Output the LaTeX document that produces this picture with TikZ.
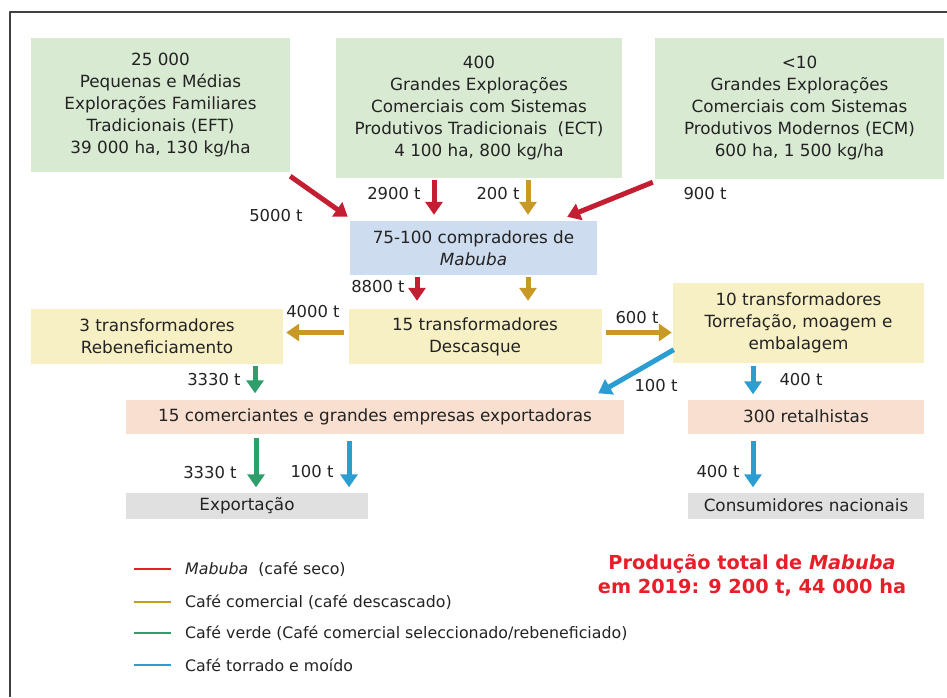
\documentclass[tikz,border=0pt]{standalone}
\usepackage{fontspec}
\setmainfont{DejaVu Sans}
\usetikzlibrary{arrows.meta,positioning}
\definecolor{txt}{RGB}{35,35,35}
\definecolor{boxgreen}{RGB}{217,234,211}
\definecolor{boxblue}{RGB}{205,220,238}
\definecolor{boxyellow}{RGB}{248,240,197}
\definecolor{boxpeach}{RGB}{249,223,207}
\definecolor{boxgrey}{RGB}{224,224,224}
\definecolor{fred}{RGB}{196,30,50}
\definecolor{fgold}{RGB}{201,153,38}
\definecolor{fgreen}{RGB}{46,158,106}
\definecolor{fblue}{RGB}{44,157,208}
\definecolor{titlered}{RGB}{232,30,40}
\begin{document}
\begin{tikzpicture}[x=1pt,y=-1pt,line join=round,
  box/.style={rectangle,inner sep=0pt,align=center,text=txt,font=\fontsize{16.8}{22}\selectfont},
  farm/.style={box,fill=boxgreen},
  buyer/.style={box,fill=boxblue},
  proc/.style={box,fill=boxyellow},
  trade/.style={box,fill=boxpeach},
  dest/.style={box,fill=boxgrey},
  flow/.style={line width=5pt,-{Triangle[width=17pt,length=13pt]}},
  redflow/.style={flow,draw=fred},
  goldflow/.style={flow,draw=fgold},
  greenflow/.style={flow,draw=fgreen},
  blueflow/.style={flow,draw=fblue},
  qty/.style={text=txt,inner sep=0pt,font=\fontsize{16.4}{18}\selectfont},
  legtext/.style={text=txt,inner sep=0pt,anchor=west,font=\fontsize{15.8}{18}\selectfont}]
\useasboundingbox (0,0) rectangle (947,697);
\draw[line width=2pt,black!75] (10,697) -- (10,12) -- (947,12);

% producers
\node[farm,minimum width=259pt,minimum height=134pt] (eft) at (160.5,105)
  {25 000\\Pequenas e Médias\\Explorações Familiares\\Tradicionais (EFT)\\39 000 ha, 130 kg/ha};
\node[farm,minimum width=286pt,minimum height=140pt] (ect) at (479,108)
  {400\\Grandes Explorações\\Comerciais com Sistemas\\Produtivos Tradicionais\ \ (ECT)\\4 100 ha, 800 kg/ha};
\node[farm,minimum width=289pt,minimum height=141pt] (ecm) at (799.5,108.5)
  {<10\\Grandes Explorações\\Comerciais com Sistemas\\Produtivos Modernos (ECM)\\600 ha, 1 500 kg/ha};

% buyers and processors
\node[buyer,minimum width=247pt,minimum height=54pt] (comp) at (473.5,248)
  {75-100 compradores de\\\textit{Mabuba}};
\node[proc,minimum width=253pt,minimum height=55pt] (desc) at (475,336.5)
  {15 transformadores\\Descasque};
\node[proc,minimum width=252pt,minimum height=55pt] (reb) at (157,336.5)
  {3 transformadores\\Rebeneficiamento};
\node[proc,minimum width=251pt,minimum height=80pt] (torr) at (798.5,322.5)
  {10 transformadores\\Torrefação, moagem e\\embalagem};

% traders and destinations
\node[trade,minimum width=498pt,minimum height=34pt] (com) at (375,416.5)
  {15 comerciantes e grandes empresas exportadoras};
\node[trade,minimum width=236pt,minimum height=34pt] (ret) at (806,416.5)
  {300 retalhistas};
\node[dest,minimum width=242pt,minimum height=26pt] (exp) at (247,505.5)
  {Exportação};
\node[dest,minimum width=236pt,minimum height=26pt] (cons) at (806,505.5)
  {Consumidores nacionais};

% flows
\draw[redflow] ([shift={(0,4)}]eft.south east) -- ([shift={(-2,-4)}]comp.north west);
\draw[redflow] ([shift={(-45,2)}]ect.south) -- ([shift={(-45,-6)}]ect.south |- comp.north);
\draw[goldflow] ([shift={(49,2)}]ect.south) -- ([shift={(49,-6)}]ect.south |- comp.north);
\draw[redflow] ([shift={(-2,3)}]ecm.south west) -- ([shift={(-30,-4)}]comp.north east);
\draw[redflow] ([shift={(-56.5,2)}]comp.south) -- ([shift={(-56.5,-8)}]comp.south |- desc.north);
\draw[goldflow] ([shift={(54.5,2)}]comp.south) -- ([shift={(54.5,-8)}]comp.south |- desc.north);
\draw[goldflow] ([shift={(-4,-4)}]desc.west) -- ([shift={(3,-4)}]reb.east);
\draw[goldflow] ([shift={(4,-4)}]desc.east) -- ([shift={(-1,10)}]torr.west);
\draw[greenflow] ([shift={(98,2)}]reb.south) -- ([shift={(98,-6)}]reb.south |- com.north);
\draw[blueflow] ([shift={(1,-13)}]torr.south west) -- ([shift={(-26,-6)}]com.north east);
\draw[blueflow] ([shift={(-45.5,3)}]torr.south) -- ([shift={(-45.5,-5)}]torr.south |- ret.north);
\draw[greenflow] ([shift={(-119,4)}]com.south) -- ([shift={(-119,-5)}]com.south |- exp.north);
\draw[blueflow] ([shift={(-26,7)}]com.south) -- ([shift={(-26,-5)}]com.south |- exp.north);
\draw[blueflow] ([shift={(-53,7)}]ret.south) -- ([shift={(-53,-5)}]ret.south |- cons.north);

% quantities
\node[qty] (q1) at (276,216) {5000 t};
\node[qty] (q2) at (394,194) {2900 t};
\node[qty] (q3) at (498,194) {200 t};
\node[qty] (q4) at (705,194) {900 t};
\node[qty] (q5) at (378,287) {8800 t};
\node[qty] (q6) at (313,312) {4000 t};
\node[qty] (q7) at (637,318) {600 t};
\node[qty] (q8) at (214,380) {3330 t};
\node[qty] (q9) at (656,386) {100 t};
\node[qty] (q10) at (801,380) {400 t};
\node[qty] (q11) at (210,473) {3330 t};
\node[qty] (q12) at (312,472) {100 t};
\node[qty] (q13) at (718,472) {400 t};

% legend
\draw[line width=2pt,titlered] (134,569) -- (171,569);
\draw[line width=2pt,fgold] (134,602) -- (171,602);
\draw[line width=2pt,fgreen] (134,633) -- (171,633);
\draw[line width=2pt,fblue] (134,665) -- (171,665);
\node[legtext] (k1) at (185,569) {\textit{Mabuba}\ \ (café seco)};
\node[legtext] (k2) at (185,602) {Café comercial (café descascado)};
\node[legtext] (k3) at (185,633) {Café verde (Café comercial seleccionado/rebeneficiado)};
\node[legtext] (k4) at (185,665) {Café torrado e moído};

\node[align=center,inner sep=0pt,text=titlered,font=\fontsize{19.3}{24}\selectfont\bfseries] (total) at (752,575)
  {Produção total de \textit{Mabuba}\\em 2019: 9 200 t, 44 000 ha};
\end{tikzpicture}
\end{document}
